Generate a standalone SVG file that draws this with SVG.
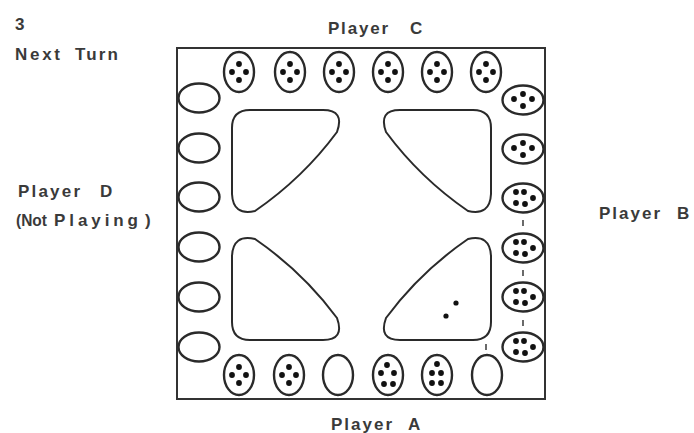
<svg xmlns="http://www.w3.org/2000/svg" xmlns:xlink="http://www.w3.org/1999/xlink" width="694" height="433" viewBox="0 0 694 433">
  <style>
    .board { fill: none; stroke: #333; stroke-width: 2; }
    .pit { fill: none; stroke: #2a2a2a; stroke-width: 2.4; }
    .store { fill: none; stroke: #2a2a2a; stroke-width: 2; }
    .seed { fill: #111; }
    .tick { stroke: #444; stroke-width: 1.6; }
    text { font-family: "Liberation Sans", Arial, sans-serif; font-size: 17px; font-weight: bold; fill: #3a3a3a; }
  </style>
  <defs>
    <!-- store shape: square corner at bottom-right, diagonal towards the centre -->
    <path id="store" d="M 468,239 Q 490,234 491,256 L 491,322 Q 491,340 473,340 L 400,340 Q 378,340 386,318 Q 420,272 468,239 Z"/>
    <ellipse id="vpit" cx="0" cy="0" rx="15" ry="20"/>
    <ellipse id="hpit" cx="0" cy="0" rx="20.5" ry="14.5"/>
    <g id="v4">
      <circle cx="0" cy="-8" r="2.9"/><circle cx="-7" cy="0" r="2.9"/>
      <circle cx="7" cy="0" r="2.9"/><circle cx="0" cy="8" r="2.9"/>
    </g>
    <g id="h4">
      <circle cx="0" cy="-6" r="2.9"/><circle cx="-9" cy="-1" r="2.9"/>
      <circle cx="9" cy="-1" r="2.9"/><circle cx="0" cy="6" r="2.9"/>
    </g>
    <g id="h5">
      <circle cx="-7" cy="-6" r="2.9"/><circle cx="1" cy="-6" r="2.9"/>
      <circle cx="10" cy="0" r="2.9"/><circle cx="-7" cy="5" r="2.9"/>
      <circle cx="2" cy="6" r="2.9"/>
    </g>
  </defs>

  <!-- labels: each word placed and stretched to its printed width -->
  <g id="labels">
    <text x="15" y="30">3</text>
    <text x="15" y="60" textLength="45" lengthAdjust="spacing">Next</text>
    <text x="75" y="60" textLength="43" lengthAdjust="spacing">Turn</text>
    <text x="328" y="34" textLength="60" lengthAdjust="spacing">Player</text>
    <text x="410" y="34">C</text>
    <text x="18" y="197" textLength="62" lengthAdjust="spacing">Player</text>
    <text x="100" y="197">D</text>
    <text x="16" y="226" textLength="31" lengthAdjust="spacingAndGlyphs">(Not</text>
    <text x="54" y="226" textLength="84" lengthAdjust="spacing">Playing</text>
    <text x="145" y="226">)</text>
    <text x="599" y="219" textLength="61" lengthAdjust="spacing">Player</text>
    <text x="677" y="219">B</text>
    <text x="331" y="430" textLength="61" lengthAdjust="spacing">Player</text>
    <text x="408" y="430">A</text>
  </g>

  <!-- board -->
  <g id="board">
    <rect class="board" x="177" y="48" width="368" height="351"/>
  </g>

  <!-- stores -->
  <g id="store-top-left"><use xlink:href="#store" class="store" transform="translate(723 450) scale(-1 -1)"/></g>
  <g id="store-top-right"><use xlink:href="#store" class="store" transform="translate(0 450) scale(1 -1)"/></g>
  <g id="store-bottom-left"><use xlink:href="#store" class="store" transform="translate(723 0) scale(-1 1)"/></g>
  <g id="store-bottom-right">
    <use xlink:href="#store" class="store"/>
    <circle class="seed" cx="456" cy="303" r="2.6"/>
    <circle class="seed" cx="446" cy="316" r="2.6"/>
  </g>

  <!-- Player C row (top) -->
  <g id="pits-c">
    <g id="c1" transform="translate(239 72)"><use xlink:href="#vpit" class="pit"/><use xlink:href="#v4" class="seed"/></g>
    <g id="c2" transform="translate(290 72)"><use xlink:href="#vpit" class="pit"/><use xlink:href="#v4" class="seed"/></g>
    <g id="c3" transform="translate(339 72)"><use xlink:href="#vpit" class="pit"/><use xlink:href="#v4" class="seed"/></g>
    <g id="c4" transform="translate(388 72)"><use xlink:href="#vpit" class="pit"/><use xlink:href="#v4" class="seed"/></g>
    <g id="c5" transform="translate(437 72)"><use xlink:href="#vpit" class="pit"/><use xlink:href="#v4" class="seed"/></g>
    <g id="c6" transform="translate(486 72)"><use xlink:href="#vpit" class="pit"/><use xlink:href="#v4" class="seed"/></g>
  </g>

  <!-- Player A row (bottom) -->
  <g id="pits-a">
    <g id="a1" transform="translate(239 375)"><use xlink:href="#vpit" class="pit"/><use xlink:href="#v4" class="seed"/></g>
    <g id="a2" transform="translate(289 375)"><use xlink:href="#vpit" class="pit"/><use xlink:href="#v4" class="seed"/></g>
    <g id="a3" transform="translate(338 375)"><use xlink:href="#vpit" class="pit"/></g>
    <g id="a4" transform="translate(388 375)">
      <use xlink:href="#vpit" class="pit"/>
      <g class="seed">
        <circle cx="-1" cy="-10" r="2.9"/><circle cx="-7" cy="-2" r="2.9"/>
        <circle cx="6" cy="-2" r="2.9"/><circle cx="-4" cy="9" r="2.9"/>
        <circle cx="5" cy="9" r="2.9"/>
      </g>
    </g>
    <g id="a5" transform="translate(437 375)">
      <use xlink:href="#vpit" class="pit"/>
      <g class="seed">
        <circle cx="0" cy="-11" r="2.9"/><circle cx="-5" cy="-2" r="2.9"/>
        <circle cx="4" cy="-2" r="2.9"/><circle cx="-5" cy="8" r="2.9"/>
        <circle cx="4" cy="8" r="2.9"/>
      </g>
    </g>
    <g id="a6" transform="translate(487 375)">
      <use xlink:href="#vpit" class="pit"/>
      <line class="tick" x1="-1" y1="-31" x2="-1" y2="-25"/>
    </g>
  </g>

  <!-- Player D column (left, empty) -->
  <g id="pits-d">
    <g id="d1" transform="translate(199 98)"><use xlink:href="#hpit" class="pit"/></g>
    <g id="d2" transform="translate(199 148)"><use xlink:href="#hpit" class="pit"/></g>
    <g id="d3" transform="translate(199 197)"><use xlink:href="#hpit" class="pit"/></g>
    <g id="d4" transform="translate(199 247)"><use xlink:href="#hpit" class="pit"/></g>
    <g id="d5" transform="translate(199 297)"><use xlink:href="#hpit" class="pit"/></g>
    <g id="d6" transform="translate(199 347)"><use xlink:href="#hpit" class="pit"/></g>
  </g>

  <!-- Player B column (right) -->
  <g id="pits-b">
    <g id="b1" transform="translate(523 100)"><use xlink:href="#hpit" class="pit"/><use xlink:href="#h4" class="seed"/></g>
    <g id="b2" transform="translate(523 149)"><use xlink:href="#hpit" class="pit"/><use xlink:href="#h4" class="seed"/></g>
    <g id="b3" transform="translate(523 198)"><use xlink:href="#hpit" class="pit"/><use xlink:href="#h5" class="seed"/></g>
    <g id="b4" transform="translate(523 248)"><use xlink:href="#hpit" class="pit"/><use xlink:href="#h5" class="seed"/></g>
    <g id="b5" transform="translate(523 297)"><use xlink:href="#hpit" class="pit"/><use xlink:href="#h5" class="seed"/></g>
    <g id="b6" transform="translate(523 347)"><use xlink:href="#hpit" class="pit"/><use xlink:href="#h5" class="seed"/></g>
  </g>

  <!-- sowing marks between pits -->
  <g id="marks">
    <line class="tick" x1="523" y1="220" x2="523" y2="226"/>
    <line class="tick" x1="523" y1="270" x2="523" y2="276"/>
    <line class="tick" x1="523" y1="320" x2="523" y2="326"/>
  </g>
</svg>
